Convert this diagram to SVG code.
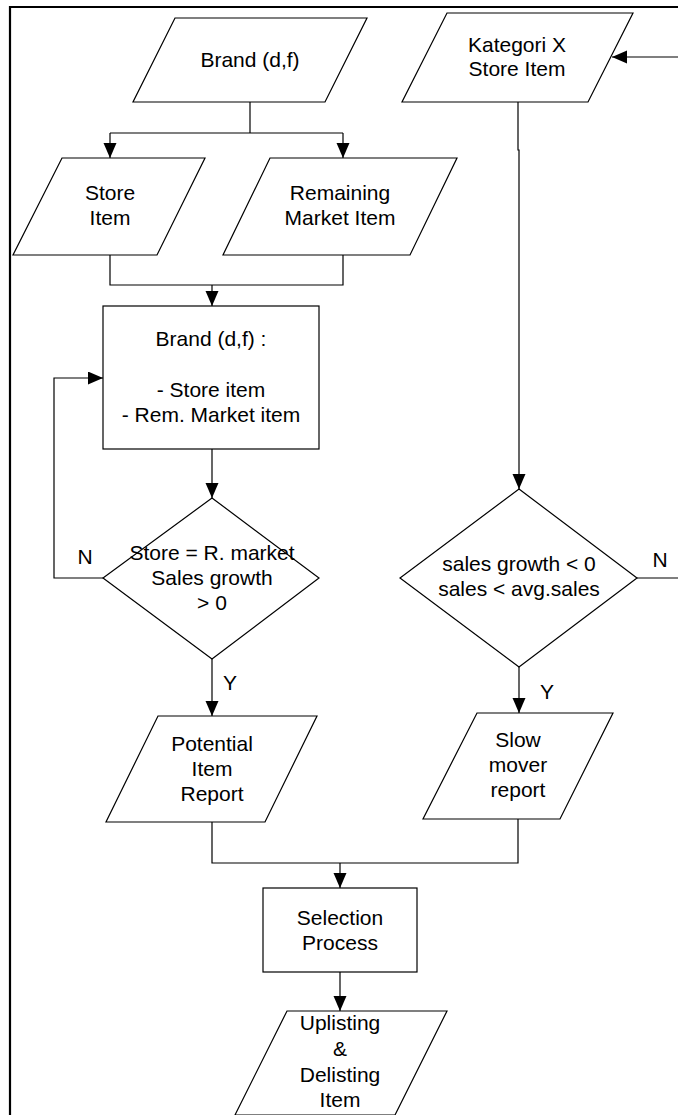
<svg xmlns="http://www.w3.org/2000/svg" width="678" height="1115" viewBox="0 0 678 1115">
<style>
.s{fill:#fff;stroke:#000;stroke-width:1.2}
.t{font-family:"Liberation Sans",Arial,sans-serif;font-size:21px;fill:#000;text-anchor:middle}
.c{fill:none;stroke:#000;stroke-width:1.2}
</style>
<defs>
<marker id="a" markerUnits="userSpaceOnUse" markerWidth="16" markerHeight="14" refX="15" refY="6.5" orient="auto">
<path d="M0,0 L15,6.5 L0,13 z" fill="#000"/>
</marker>
</defs>
<rect width="678" height="1115" fill="#fff"/>
<path d="M10,1115 V7 H678" fill="none" stroke="#000" stroke-width="2.2"/>
<g id="connectors">
<path class="c" d="M250,102 V133"/>
<path class="c" d="M110,133 H343"/>
<path class="c" d="M110,133 V158" marker-end="url(#a)"/>
<path class="c" d="M343,133 V158" marker-end="url(#a)"/>
<path class="c" d="M110,255 V285 H343 V255"/>
<path class="c" d="M212,285 V306" marker-end="url(#a)"/>
<path class="c" d="M212,449 V498" marker-end="url(#a)"/>
<path class="c" d="M103,578 H54 V378 H103" marker-end="url(#a)"/>
<path class="c" d="M212,659 V716" marker-end="url(#a)"/>
<path class="c" d="M678,57 H612" marker-end="url(#a)"/>
<path class="c" d="M518,102 V150 H519 V489" marker-end="url(#a)"/>
<path class="c" d="M637,578 H678"/>
<path class="c" d="M519,667 V713" marker-end="url(#a)"/>
<path class="c" d="M212,822 V863 H518 V819"/>
<path class="c" d="M340,863 V888" marker-end="url(#a)"/>
<path class="c" d="M340,972 V1011" marker-end="url(#a)"/>
<text class="t" x="85" y="564">N</text>
<text class="t" x="230" y="690">Y</text>
<text class="t" x="660" y="567">N</text>
<text class="t" x="547" y="699">Y</text>
</g>
<g id="brand">
<polygon class="s" points="175,18 367,18 325,102 133,102"/>
<text class="t" x="250" y="67">Brand (d,f)</text>
</g>
<g id="store-item">
<polygon class="s" points="62,158 205,158 157,255 13,255"/>
<text class="t" x="110" y="200">Store</text>
<text class="t" x="110" y="225">Item</text>
</g>
<g id="remaining-market-item">
<polygon class="s" points="270,158 457,158 410,255 223,255"/>
<text class="t" x="340" y="200">Remaining</text>
<text class="t" x="340" y="225">Market Item</text>
</g>
<g id="brand-box">
<rect class="s" x="103" y="306" width="216" height="143"/>
<text class="t" x="211" y="346">Brand (d,f) :</text>
<text class="t" x="211" y="397">- Store item</text>
<text class="t" x="211" y="422">- Rem. Market item</text>
</g>
<g id="decision-1">
<polygon class="s" points="212,498 319,578 212,659 103,578"/>
<text class="t" x="212" y="560">Store = R. market</text>
<text class="t" x="212" y="585">Sales growth</text>
<text class="t" x="212" y="610">&gt; 0</text>
</g>
<g id="potential-report">
<polygon class="s" points="158,716 317,716 265,822 106,822"/>
<text class="t" x="212" y="751">Potential</text>
<text class="t" x="212" y="776">Item</text>
<text class="t" x="212" y="801">Report</text>
</g>
<g id="kategori">
<polygon class="s" points="447,13 633,13 588,102 402,102"/>
<text class="t" x="517" y="52">Kategori X</text>
<text class="t" x="517" y="76">Store Item</text>
</g>
<g id="decision-2">
<polygon class="s" points="519,489 637,578 519,667 400,578"/>
<text class="t" x="519" y="571">sales growth &lt; 0</text>
<text class="t" x="519" y="596">sales &lt; avg.sales</text>
</g>
<g id="slow-mover">
<polygon class="s" points="477,713 613,713 560,819 423,819"/>
<text class="t" x="518" y="747">Slow</text>
<text class="t" x="518" y="772">mover</text>
<text class="t" x="518" y="797">report</text>
</g>
<g id="selection">
<rect class="s" x="263" y="888" width="154" height="84"/>
<text class="t" x="340" y="925">Selection</text>
<text class="t" x="340" y="950">Process</text>
</g>
<g id="uplisting">
<polygon class="s" points="287,1011 447,1011 395,1115 235,1115"/>
<text class="t" x="340" y="1030">Uplisting</text>
<text class="t" x="340" y="1056">&amp;</text>
<text class="t" x="340" y="1082">Delisting</text>
<text class="t" x="340" y="1107">Item</text>
</g>
</svg>
